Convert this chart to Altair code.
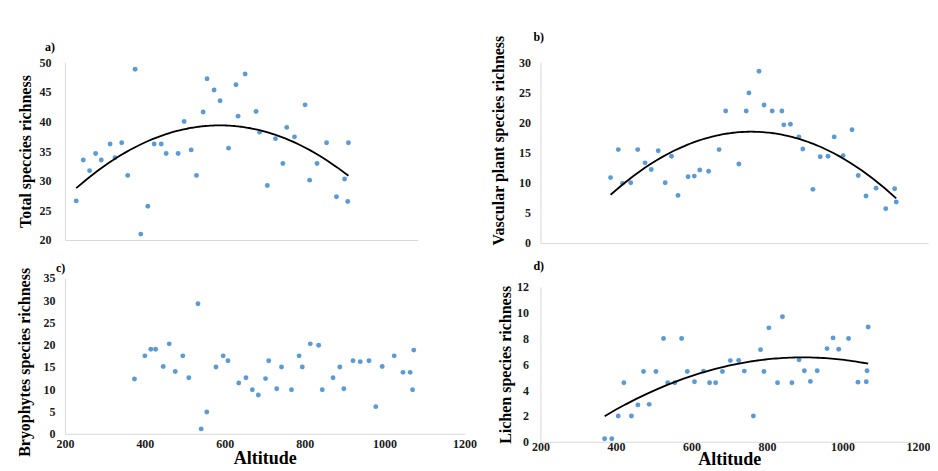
import altair as alt
import pandas as pd

FONT = "Liberation Serif"
DOT = "#5b9bd5"
AXIS_GRAY = "#d9d9d9"
X_TICKS = [200, 400, 600, 800, 1000, 1200]

# a) Total species richness
a_alt = [232, 252, 270, 287, 303, 328, 342, 361, 378, 399, 415, 435, 453, 473, 487, 521,
         538, 558, 573, 592, 603, 623, 640, 664, 685, 691, 711, 742, 752, 774, 797, 818,
         829, 851, 881, 894, 915, 942, 970, 993, 1002, 1004]
a_val = [26.6, 33.5, 31.7, 34.6, 33.5, 36.2, 33.9, 36.4, 30.9, 48.8, 21.0, 25.7, 36.2, 36.2,
         34.6, 34.6, 40.0, 35.2, 30.9, 41.6, 47.2, 45.3, 43.5, 35.5, 46.2, 40.9, 48.0, 41.7,
         38.2, 29.2, 37.1, 32.9, 39.0, 37.4, 42.8, 30.1, 32.9, 36.4, 27.3, 30.3, 26.5, 36.4]

# b) Vascular plant species richness
b_alt = [381, 401, 412, 433, 451, 470, 486, 504, 522, 538, 555, 581, 597, 611, 634, 661,
         678, 712, 731, 738, 764, 777, 798, 823, 828, 845, 867, 877, 903, 922, 942, 958,
         981, 1004, 1020, 1040, 1066, 1091, 1114, 1118]
b_val = [10.85, 15.5, 9.9, 10.0, 15.5, 13.3, 12.2, 15.3, 10.0, 14.4, 7.9, 11.0, 11.1, 12.1,
         11.9, 15.5, 21.9, 13.1, 21.9, 24.9, 28.5, 22.9, 21.9, 21.9, 19.6, 19.7, 17.6, 15.6,
         8.9, 14.3, 14.4, 17.6, 14.5, 18.8, 11.2, 7.8, 9.1, 5.7, 9.0, 6.8]

# c) Bryophytes species richness
c_alt = [374, 400, 415, 427, 446, 461, 476, 495, 510, 533, 541, 555, 578, 596, 608, 635,
         653, 669, 684, 702, 710, 730, 742, 767, 786, 794, 814, 835, 844, 871, 888, 898,
         921, 939, 961, 978, 994, 1024, 1046, 1064, 1070, 1073]
c_val = [12.3, 17.5, 19.0, 19.0, 15.1, 20.2, 14.0, 17.5, 12.6, 29.2, 1.1, 4.9, 15.0, 17.5,
         16.4, 11.4, 12.6, 9.9, 8.7, 12.4, 16.4, 10.1, 15.0, 9.9, 17.5, 15.0, 20.2, 19.9,
         9.9, 12.6, 15.0, 10.1, 16.4, 16.2, 16.4, 6.1, 15.1, 17.5, 13.8, 13.8, 9.9, 18.8]

# d) Lichen species richness
d_alt = [370, 389, 406, 421, 441, 458, 473, 488, 506, 526, 537, 556, 574, 589, 608, 632,
         648, 664, 682, 703, 725, 740, 764, 783, 792, 805, 828, 841, 866, 885, 899, 915,
         933, 959, 975, 990, 1016, 1041, 1063, 1065, 1068]
d_val = [0.23, 0.23, 2.0, 4.57, 2.0, 2.86, 5.45, 2.9, 5.45, 8.0, 4.57, 4.57, 8.0, 5.45,
         4.65, 5.48, 4.57, 4.57, 5.45, 6.29, 6.31, 5.48, 2.0, 7.14, 5.45, 8.83, 4.57, 9.69,
         4.57, 6.36, 5.5, 4.68, 5.5, 7.22, 8.05, 7.17, 8.0, 4.62, 4.65, 5.5, 8.9]


def panel(alts, vals, ydom, ystep, w, h, ytitle, tag, tag_dx, tag_offset, show_x, trend,
          y_label_pad, y_title_pad, y_title_y=None, x_label_pad=5, x_title_pad=0):
    df = pd.DataFrame({"alt": alts, "val": vals})
    yticks = list(range(ydom[0], ydom[1] + 1, ystep))
    ykw = dict(values=yticks, ticks=False, grid=False, domainColor=AXIS_GRAY, format="d",
               labelFont=FONT, labelFontSize=12, labelFontWeight="bold", labelColor="#1a1a1a",
               labelPadding=y_label_pad, labelFlush=False, titleFont=FONT, titleFontSize=16,
               titleFontWeight="bold", titleColor="black", titlePadding=y_title_pad)
    if y_title_y is not None:
        ykw["titleY"] = y_title_y
    if show_x:
        xaxis = alt.Axis(values=X_TICKS, ticks=False, grid=False, domainColor=AXIS_GRAY,
                         format="d", labelFont=FONT, labelFontSize=12, labelFontWeight="bold",
                         labelColor="#1a1a1a", labelPadding=x_label_pad, labelFlush=False,
                         labelOverlap=False, titleFont=FONT, titleFontSize=18,
                         titleFontWeight="bold", titleColor="black", titlePadding=x_title_pad)
        x = alt.X("alt:Q", scale=alt.Scale(domain=[200, 1200], nice=False, zero=False),
                  axis=xaxis, title="Altitude")
    else:
        xaxis = alt.Axis(values=X_TICKS, ticks=False, grid=False, labels=False,
                         domainColor=AXIS_GRAY)
        x = alt.X("alt:Q", scale=alt.Scale(domain=[200, 1200], nice=False, zero=False),
                  axis=xaxis, title=None)
    y = alt.Y("val:Q", scale=alt.Scale(domain=list(ydom), nice=False, zero=False),
              axis=alt.Axis(**ykw), title=ytitle)
    base = alt.Chart(df)
    layers = [base.mark_circle(size=24, color=DOT, opacity=1).encode(x=x, y=y)]
    if trend:
        layers.append(
            base.transform_regression("alt", "val", method="poly", order=2)
            .mark_line(color="black", strokeWidth=1.8)
            .encode(x=x, y=y)
        )
    title = alt.TitleParams(text=tag, anchor="start", frame="group", dx=tag_dx,
                            offset=tag_offset, font=FONT, fontSize=12, fontWeight="bold",
                            color="black")
    return alt.layer(*layers).properties(width=w, height=h, title=title)


pa = panel(a_alt, a_val, (20, 50), 5, 353, 178, "Total speccies richness", "a)",
           -20, 2, False, True, y_label_pad=14, y_title_pad=5)
pc = panel(c_alt, c_val, (0, 35), 5, 400, 156, "Bryophytes species richness", "c)",
           -9, -8, True, False, y_label_pad=10, y_title_pad=10, y_title_y=84,
           x_label_pad=5, x_title_pad=0)
pb = panel(b_alt, b_val, (0, 30), 5, 388, 181, "Vascular plant species richness", "b)",
           -7, -9, False, True, y_label_pad=10, y_title_pad=12, y_title_y=78)
pd_ = panel(d_alt, d_val, (0, 12), 2, 378, 155, "Lichen species richness", "d)",
            -7, 8, True, True, y_label_pad=12, y_title_pad=3, x_label_pad=0, x_title_pad=-2)

left = alt.vconcat(pa, pc, spacing=16)
right = alt.vconcat(pb, pd_, spacing=11)
chart = (
    alt.hconcat(left, right, spacing=13)
    .properties(padding={"left": 9, "top": 22, "right": 0, "bottom": 0})
    .configure_view(stroke=None)
)
chart.save("out.html", embed_options={"renderer": "svg", "actions": False})
